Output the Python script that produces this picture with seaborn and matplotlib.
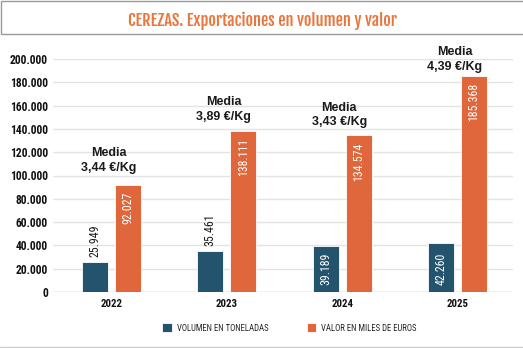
import matplotlib
matplotlib.use("Agg")
import matplotlib.pyplot as plt
import seaborn as sns
import pandas as pd
from matplotlib import font_manager
from matplotlib.patches import Rectangle
from matplotlib.lines import Line2D

# ---- data -------------------------------------------------------------
years = ["2022", "2023", "2024", "2025"]
volumen_toneladas = [25949, 35461, 39189, 42260]
valor_miles_euros = [92027, 138111, 134574, 185368]
media_eur_kg = ["3,44", "3,89", "3,43", "4,39"]
series_names = ["VOLUMEN EN TONELADAS", "VALOR EN MILES DE EUROS"]
y_ticks = [0, 20000, 40000, 60000, 80000, 100000, 120000, 140000, 160000, 180000, 200000]
title = "CEREZAS. Exportaciones en volumen y valor"

df = pd.DataFrame({
    "year": years * 2,
    "serie": [series_names[0]] * len(years) + [series_names[1]] * len(years),
    "valor": volumen_toneladas + valor_miles_euros,
})

# ---- style ------------------------------------------------------------
DARK = "#24536d"
ORANGE = "#df673b"
TITLE_ORANGE = "#e8763d"
GRID = "#e3e3e3"

sns.set_theme(style="white")
installed = {f.name for f in font_manager.fontManager.ttflist}


def pick(*families):
    for fam in families:
        if fam in installed:
            return fam
    return "Liberation Sans"


COND = pick("Roboto Condensed", "Liberation Sans Narrow")
TITLE_FONT = pick("Fjalla One", "Roboto Condensed", "Liberation Sans Narrow")
SANS = "Liberation Sans"
plt.rcParams["font.family"] = [SANS, "DejaVu Sans"]


def fmt(v):
    return f"{v:,}".replace(",", ".")


W, H = 523, 348
fig = plt.figure(figsize=(W / 100, H / 100), dpi=100)
fig.patch.set_facecolor("white")
ax = fig.add_axes([53 / W, 56 / H, 460 / W, 233 / H])

sns.barplot(
    data=df, x="year", y="valor", hue="serie", hue_order=series_names,
    palette=[DARK, ORANGE], saturation=1, width=0.572, gap=0.21,
    errorbar=None, edgecolor="white", linewidth=0.6, ax=ax,
)

ax.set_xlim(-0.507, 3.48)
ax.set_ylim(0, 200000)
ax.set_yticks(y_ticks)
ax.set_yticklabels([fmt(t) for t in y_ticks], family=[COND, "DejaVu Sans"],
                   fontweight="bold", fontsize=8.3, color="#111111")
ax.set_xticks(range(len(years)))
ax.set_xticklabels(years, family=[COND, "DejaVu Sans"], fontweight="bold",
                   fontsize=7.8, color="#111111")
ax.tick_params(axis="y", length=0, pad=3.6)
ax.tick_params(axis="x", length=0, pad=5)
ax.set_xlabel("")
ax.set_ylabel("")
for s in ax.spines.values():
    s.set_visible(False)
ax.yaxis.grid(True, color=GRID, linewidth=1.0)
ax.set_axisbelow(True)
ax.axhline(0, color="#cfcfcf", linewidth=1.0, zorder=0.5)

# ---- value labels -----------------------------------------------------
fig.canvas.draw()
renderer = fig.canvas.get_renderer()

vol_bars, val_bars = ax.containers[0], ax.containers[1]
label_font = dict(family=[COND, "DejaVu Sans"], fontsize=8.6)

for bar, v in zip(val_bars, valor_miles_euros):
    xc = bar.get_x() + bar.get_width() / 2
    ax.annotate(fmt(v), xy=(xc, v), xytext=(0, -7), textcoords="offset pixels",
                rotation=90, ha="center", va="top", color="white", **label_font)

for bar, v in zip(vol_bars, volumen_toneladas):
    xc = bar.get_x() + bar.get_width() / 2
    t = ax.annotate(fmt(v), xy=(xc, 0), xytext=(0, 7), textcoords="offset pixels",
                    rotation=90, ha="center", va="bottom", color="white", **label_font)
    text_px = t.get_window_extent(renderer).height
    bar_px = ax.transData.transform((0, v))[1] - ax.transData.transform((0, 0))[1]
    if text_px + 10 > bar_px:
        t.remove()
        ax.annotate(fmt(v), xy=(xc, v), xytext=(0, 5), textcoords="offset pixels",
                    rotation=90, ha="center", va="bottom", color="#1a1a1a", **label_font)

# average price above each pair of bars
media_gap_px = [11, 8, 7, 3]
for i, (m, top) in enumerate(zip(media_eur_kg, valor_miles_euros)):
    ax.annotate(f"Media\n{m} €/Kg", xy=(i, top), xytext=(-3, media_gap_px[i]),
                textcoords="offset pixels", ha="center", va="bottom",
                fontweight="bold", fontsize=9, linespacing=1.3,
                color="#1a1a1a", annotation_clip=False)

# ---- legend -----------------------------------------------------------
handles, labels = ax.get_legend_handles_labels()
if ax.legend_ is not None:
    ax.legend_.remove()
fig.legend(handles, labels, loc="center left", bbox_to_anchor=(158 / W, (H - 328) / H),
           ncol=2, frameon=False, borderpad=0, handlelength=1.05, handleheight=1.05,
           handletextpad=0.65, columnspacing=4.3,
           prop={"family": [COND, "DejaVu Sans"], "size": 6.3})

# ---- title box and frame lines ---------------------------------------
fig.add_artist(Rectangle((1 / W, (H - 34) / H), 540 / W, 33 / H, transform=fig.transFigure,
                         fill=False, edgecolor="#9a9a9a", linewidth=1.0))
title_txt = fig.text(263 / W, (H - 26.5) / H, title, ha="center", va="baseline",
                     family=[TITLE_FONT, "DejaVu Sans"], fontweight="bold", fontsize=14,
                     color=TITLE_ORANGE)
# fit the title to its column width
fig.canvas.draw()
tw = title_txt.get_window_extent(fig.canvas.get_renderer()).width
title_txt.set_fontsize(14 * 270 / tw)

fig.add_artist(Line2D([0, 1], [1.5 / H, 1.5 / H], transform=fig.transFigure,
                      color="#d0d0d0", linewidth=1.0))

fig.savefig("out.png", dpi=100, facecolor="white")
